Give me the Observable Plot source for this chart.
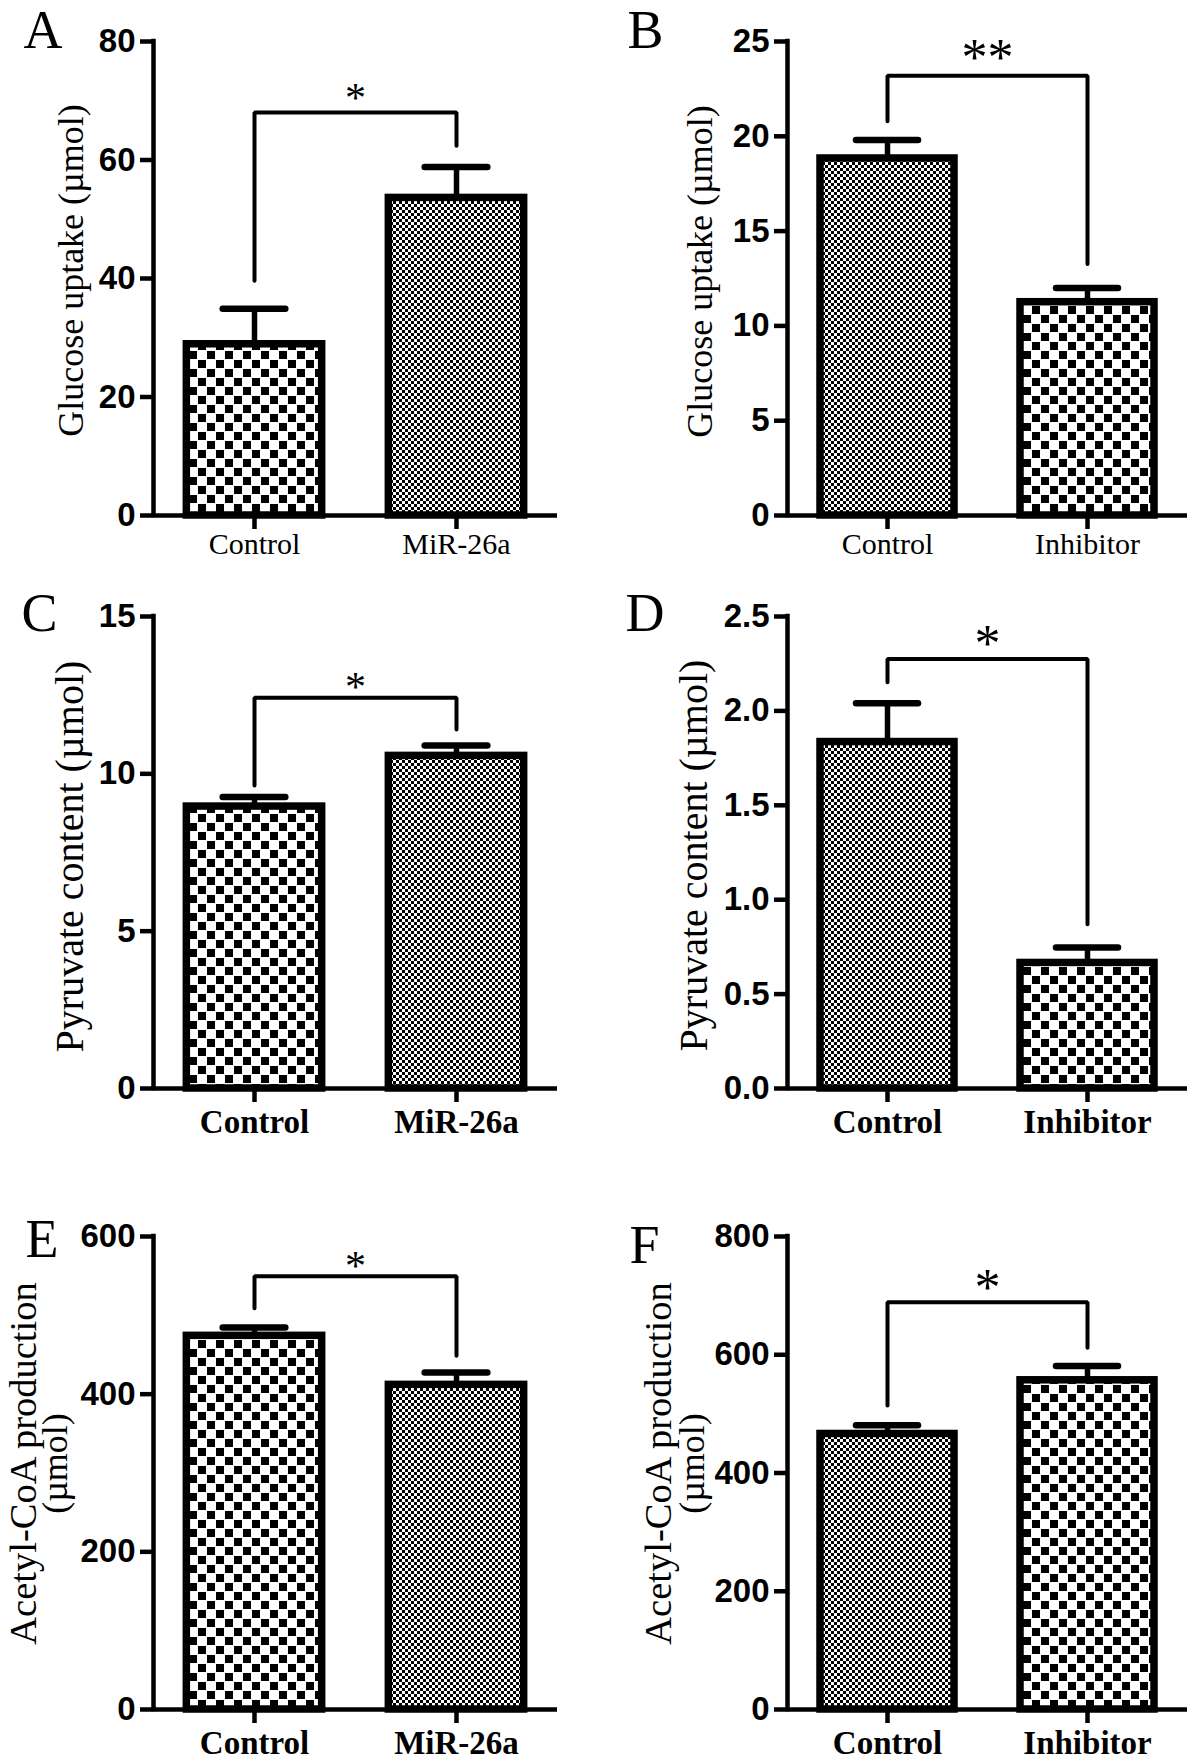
<!DOCTYPE html>
<html><head><meta charset="utf-8">
<script src="https://cdn.jsdelivr.net/npm/d3@7"></script>
<script src="https://cdn.jsdelivr.net/npm/@observablehq/plot@0.6"></script>
<style>
html,body{margin:0;padding:0;background:#fff;}
#fig{position:relative;width:1200px;height:1761px;overflow:hidden;background:#fff;}
#fig svg{position:absolute;overflow:visible;}
</style></head><body><div id="fig"></div>
<script>
// ---------- data ----------
const catsMiR = ["Control", "MiR-26a"];
const catsInh = ["Control", "Inhibitor"];

const glucoseMiR = [28.9, 53.6];
const glucoseMiRErr = [6.0, 5.2];
const glucoseInh = [18.83, 11.25];
const glucoseInhErr = [0.97, 0.75];
const pyruvateMiR = [8.96, 10.57];
const pyruvateMiRErr = [0.30, 0.33];
const pyruvateInh = [1.835, 0.665];
const pyruvateInhErr = [0.205, 0.082];
const acetylMiR = [474, 411.8];
const acetylMiRErr = [10.6, 15.8];
const acetylInh = [466, 556.8];
const acetylInhErr = [14.6, 24.2];

// significance brackets: [left leg end, top, right leg end]
const bracketA = [39.6, 68, 62.4];
const bracketB = [20.8, 23.2, 13.27];
const bracketC = [9.63, 12.42, 11.41];
const bracketD = [2.152, 2.275, 0.87];
const bracketE = [509, 549.7, 448.7];
const bracketF = [514, 688.6, 612];

// significance marks: [label, level]
const starA = ["*", 71.6];
const starB = ["**", 24.6];
const starC = ["*", 12.97];
const starD = ["*", 2.40];
const starE = ["*", 571];
const starF = ["*", 728];

const ticksA = [0, 20, 40, 60, 80];
const ticksB = [0, 5, 10, 15, 20, 25];
const ticksC = [0, 5, 10, 15];
const ticksD = [0, 0.5, 1.0, 1.5, 2.0, 2.5];
const ticksE = [0, 200, 400, 600];
const ticksF = [0, 200, 400, 600, 800];

const titleGlucose = ["Glucose uptake (µmol)"];
const titlePyruvate = ["Pyruvate content (µmol)"];
const titleAcetyl = ["Acetyl-CoA production", "(µmol)"];
const letters = ["A", "B", "C", "D", "E", "F"];

// ---------- layout ----------
const serif = "Liberation Serif, Times New Roman, serif";
const sans = "Liberation Sans, Arial, sans-serif";
const cols = [{left: 0, ml: 153, mr: 43}, {left: 600, ml: 187, mr: 13}];
const rows = [
  {top: 0, h: 580, mt: 41, mb: 65, catSize: 30, catWeight: "normal", catPad: 3, titleSizes: [36]},
  {top: 580, h: 580, mt: 36, mb: 72, catSize: 33, catWeight: "bold", catPad: 7, titleSizes: [40]},
  {top: 1160, h: 601, mt: 76, mb: 52, catSize: 33, catWeight: "bold", catPad: 7, titleSizes: [38.5, 36]}
];
const layout = {
  A: {letterX: 23, letterY: 9, titleX: [70.5], titleY: 270},
  B: {letterX: 627, letterY: 9, titleX: [699.5], titleY: 271},
  C: {letterX: 21, letterY: 592, titleX: [70], titleY: 856},
  D: {letterX: 625, letterY: 592, titleX: [694], titleY: 855},
  E: {letterX: 25, letterY: 1218, titleX: [23, 55], titleY: 1463},
  F: {letterX: 629, letterY: 1224, titleX: [658, 692], titleY: 1463}
};

const panels = [
  {letter: letters[0], col: 0, row: 0, cats: catsMiR, means: glucoseMiR, errs: glucoseMiRErr, ticks: ticksA, bracket: bracketA, star: starA, title: titleGlucose},
  {letter: letters[1], col: 1, row: 0, cats: catsInh, means: glucoseInh, errs: glucoseInhErr, ticks: ticksB, bracket: bracketB, star: starB, title: titleGlucose},
  {letter: letters[2], col: 0, row: 1, cats: catsMiR, means: pyruvateMiR, errs: pyruvateMiRErr, ticks: ticksC, bracket: bracketC, star: starC, title: titlePyruvate},
  {letter: letters[3], col: 1, row: 1, cats: catsInh, means: pyruvateInh, errs: pyruvateInhErr, ticks: ticksD, bracket: bracketD, star: starD, title: titlePyruvate, fmt: d => d.toFixed(1)},
  {letter: letters[4], col: 0, row: 2, cats: catsMiR, means: acetylMiR, errs: acetylMiRErr, ticks: ticksE, bracket: bracketE, star: starE, title: titleAcetyl},
  {letter: letters[5], col: 1, row: 2, cats: catsInh, means: acetylInh, errs: acetylInhErr, ticks: ticksF, bracket: bracketF, star: starF, title: titleAcetyl}
];

const fig = document.getElementById("fig");
const NS = "http://www.w3.org/2000/svg";

function makePanel(p) {
  const col = cols[p.col], row = rows[p.row], L = layout[p.letter];
  const id = p.letter;
  const width = 600, height = row.h;
  const idx = [0, 1];
  const ymax = p.ticks[p.ticks.length - 1];
  const hw = 0.335, capHalf = 0.155;
  // left column: Control coarse / treatment fine ; right column: reversed
  const fillFor = i => ((p.col === 0) === (i === 0)) ? `url(#coarse-${id})` : `url(#fine-${id})`;
  const frameLeft = col.left + col.ml;
  const frameTop = row.top + row.mt;
  const frameMidY = row.top + (row.mt + row.h - row.mb) / 2;
  const starSize = p.col === 0 ? 42 : 52;
  const bracketPts = [[0, p.bracket[0]], [0, p.bracket[1]], [1, p.bracket[1]], [1, p.bracket[2]]];

  const marks = [
    // error bars (upper only)
    Plot.ruleX(idx, {x: i => i, y1: i => p.means[i], y2: i => p.means[i] + p.errs[i], stroke: "black", strokeWidth: 5.5}),
    Plot.ruleY(idx, {y: i => p.means[i] + p.errs[i], x1: i => i - capHalf, x2: i => i + capHalf, stroke: "black", strokeWidth: 6.5, strokeLinecap: "round"}),
    // bars
    ...idx.map(i => Plot.rectY([i], {x1: d => d - hw, x2: d => d + hw, y1: 0, y2: d => p.means[d], fill: fillFor(i), stroke: "black", strokeWidth: 7.5})),
    // axis lines
    Plot.ruleY([0], {stroke: "black", strokeWidth: 4.5}),
    Plot.ruleX([-0.5], {y1: 0, y2: ymax, stroke: "black", strokeWidth: 4.5, strokeLinecap: "square"}),
    Plot.axisY({ticks: p.ticks, tickSize: 13, tickPadding: 5, strokeWidth: 4.5, stroke: "black", fill: "black",
      fontSize: 33, fontWeight: "bold", fontFamily: sans, tickFormat: p.fmt || (d => String(d)), label: null}),
    Plot.axisX({ticks: [0, 1], tickSize: 14, tickPadding: row.catPad, strokeWidth: 4.5, stroke: "black", fill: "black",
      fontSize: row.catSize, fontWeight: row.catWeight, fontFamily: serif, tickFormat: i => p.cats[i], label: null}),
    // significance bracket and mark
    Plot.line(bracketPts, {x: d => d[0], y: d => d[1], stroke: "black", strokeWidth: 4, strokeLinejoin: "miter"}),
    Plot.text([p.star], {x: 0.5, y: d => d[1], text: d => d[0], fontSize: starSize, fontFamily: serif, fill: "black", lineAnchor: "middle", dy: 0.18 * starSize}),
    // y-axis title (one or two lines)
    ...p.title.map((t, k) => Plot.text([t], {frameAnchor: "left", text: d => d, rotate: -90, textAnchor: "middle", lineAnchor: "middle",
      dx: L.titleX[k] - frameLeft, dy: L.titleY - frameMidY, fontSize: row.titleSizes[k], fontFamily: serif, fill: "black"})),
    // panel letter
    Plot.text([p.letter], {frameAnchor: "top-left", text: d => d, textAnchor: "start", lineAnchor: "top",
      dx: L.letterX - frameLeft, dy: L.letterY - frameTop, fontSize: 54, fontFamily: serif, fill: "black"})
  ];

  const svg = Plot.plot({
    width, height,
    marginLeft: col.ml, marginRight: col.mr, marginTop: row.mt, marginBottom: row.mb,
    x: {type: "linear", domain: [-0.5, 1.5]},
    y: {type: "linear", domain: [0, ymax]},
    style: {background: "transparent", color: "black", overflow: "visible"},
    marks
  });
  const defs = document.createElementNS(NS, "defs");
  defs.innerHTML =
    `<pattern id="coarse-${id}" patternUnits="userSpaceOnUse" width="18" height="18">` +
    `<rect width="18" height="18" fill="white"/><rect width="8" height="8" fill="black"/><rect x="9" y="9" width="8" height="8" fill="black"/></pattern>` +
    `<pattern id="fine-${id}" patternUnits="userSpaceOnUse" width="6" height="6">` +
    `<rect width="6" height="6" fill="white"/><rect width="3" height="3" fill="black"/><rect x="3" y="3" width="3" height="3" fill="black"/></pattern>`;
  svg.insertBefore(defs, svg.firstChild);
  svg.style.left = col.left + "px";
  svg.style.top = row.top + "px";
  fig.appendChild(svg);
}

panels.forEach(makePanel);
</script>
</body></html>
